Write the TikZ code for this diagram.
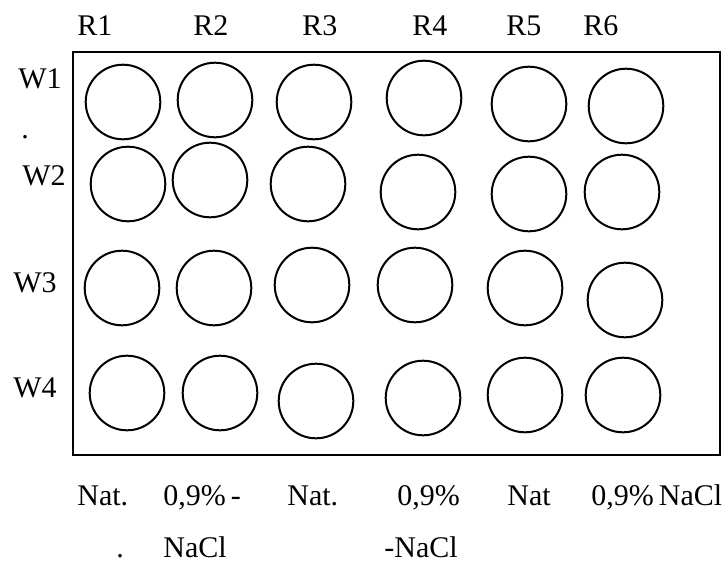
\documentclass[tikz,border=0pt]{standalone}
\usepackage{fontspec}
\setmainfont{Liberation Serif}

\begin{document}
\begin{tikzpicture}[x=0.5pt,y=-0.5pt,
	well/.style={circle,draw,line width=1pt,minimum size=37.3pt,inner sep=0pt},
	lbl/.style={anchor=base west,inner sep=0pt,font=\fontsize{15}{18}\selectfont}]
				\useasboundingbox (0,0) rectangle (728,563);
				% plate
				\draw[line width=1pt] (73,52) rectangle (720,455);
				% column labels
				\node[lbl] (r1) at (77,35) {R1};
				\node[lbl] (r2) at (193,35) {R2};
				\node[lbl] (r3) at (302,35) {R3};
				\node[lbl] (r4) at (412,35) {R4};
				\node[lbl] (r5) at (506,35) {R5};
				\node[lbl] (r6) at (583,35) {R6};
				% row labels
				\node[lbl] (w1) at (18,88) {W1};
				\node[lbl] (dot1) at (21,138) {.};
				\node[lbl] (w2) at (22,185) {W2};
				\node[lbl] (w3) at (13,292) {W3};
				\node[lbl] (w4) at (13,397) {W4};
				% wells, row W1
				\node[well] (a1) at (123,102) {};
				\node[well] (a2) at (215,100) {};
				\node[well] (a3) at (314,102) {};
				\node[well] (a4) at (424,98) {};
				\node[well] (a5) at (529,104) {};
				\node[well] (a6) at (626,106) {};
				% row W2
				\node[well] (b1) at (128,184) {};
				\node[well] (b2) at (210,180) {};
				\node[well] (b3) at (308,184) {};
				\node[well] (b4) at (418,192) {};
				\node[well] (b5) at (529,194) {};
				\node[well] (b6) at (622,192) {};
				% row W3
				\node[well] (c1) at (122,288) {};
				\node[well] (c2) at (214,288) {};
				\node[well] (c3) at (312,285) {};
				\node[well] (c4) at (415,285) {};
				\node[well] (c5) at (525,288) {};
				\node[well] (c6) at (625,300) {};
				% row W4
				\node[well] (d1) at (127,393) {};
				\node[well] (d2) at (220,393) {};
				\node[well] (d3) at (316,401) {};
				\node[well] (d4) at (423,398) {};
				\node[well] (d5) at (525,395) {};
				\node[well] (d6) at (623,395) {};
				% solutions under the columns
				\node[lbl] (s1) at (77,505) {Nat.};
				\node[lbl] (s1b) at (116,557) {.};
				\node[lbl] (s2) at (163,505) {0,9\%\,-};
				\node[lbl] (s2b) at (163,557) {NaCl};
				\node[lbl] (s3) at (287,505) {Nat.};
				\node[lbl] (s4) at (397,505) {0,9\%};
				\node[lbl] (s4b) at (384,557) {-NaCl};
				\node[lbl] (s5) at (507,505) {Nat};
				\node[lbl] (s6) at (591,505) {0,9\%\,NaCl};
				\end{tikzpicture}
\end{document}
